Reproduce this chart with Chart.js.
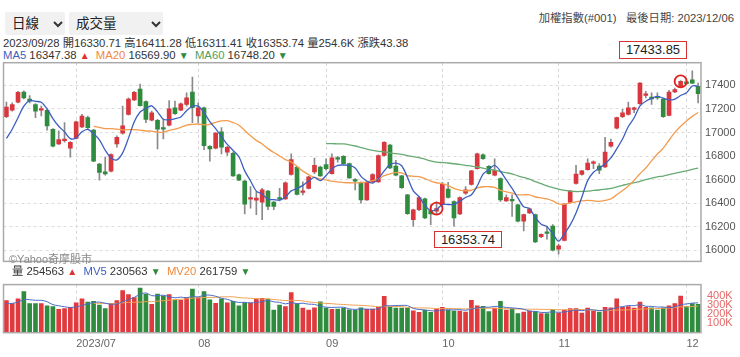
<!DOCTYPE html>
<html><head><meta charset="utf-8">
<script src="https://cdn.jsdelivr.net/npm/chart.js@4.4.0/dist/chart.umd.min.js"></script>
<style>
html,body{margin:0;padding:0;background:#fff;}
body{width:740px;height:357px;position:relative;overflow:hidden;font-family:"Liberation Sans",Arial,"Noto Sans CJK TC",sans-serif;color:#333;}
.abs{position:absolute;white-space:nowrap;}
.sel{position:absolute;top:12px;height:23px;background:#f1f1f1;border-radius:2px;font-size:13.5px;line-height:23px;color:#222;}
.sel span{position:absolute;left:7px;top:0;}
.sel svg{position:absolute;top:9px;}
.info{font-size:11.3px;line-height:13px;color:#333;}
.blue{color:#3d5fc0}.orange{color:#f08a3c}.green{color:#4e9e5c}.up{color:#e03030;font-size:10px}.dn{color:#2e8b3c;font-size:10px}
.box{position:absolute;border:1.5px solid #d93030;background:#fff;font-size:13px;line-height:16px;text-align:center;color:#222;box-sizing:border-box;}
canvas{position:absolute;left:0;}
</style></head><body>
<div class="sel" style="left:5px;width:60px;"><span>日線</span><svg style="left:48px" width="10" height="7"><polyline points="1,1 5,5 9,1" fill="none" stroke="#333" stroke-width="2"/></svg></div>
<div class="sel" style="left:69px;width:94px;"><span>成交量</span><svg style="left:82px" width="10" height="7"><polyline points="1,1 5,5 9,1" fill="none" stroke="#333" stroke-width="2"/></svg></div>
<div class="abs info" style="right:6px;top:12px;color:#444;">加權指數(#001) &nbsp; 最後日期: 2023/12/06</div>
<div class="abs info" style="left:3px;top:37px;">2023/09/28 開16330.71 高16411.28 低16311.41 收16353.74 量254.6K 漲跌43.38</div>
<div class="abs info" style="left:3px;top:49px;"><span class="blue">MA5</span> 16347.38 <span class="up">▲</span> &nbsp;<span class="orange">MA20</span> 16569.90 <span class="dn">▼</span> &nbsp;<span class="green">MA60</span> 16748.20 <span class="dn">▼</span></div>
<canvas id="main" width="740" height="222" style="top:50px"></canvas>
<canvas id="vol" width="740" height="85" style="top:272px"></canvas>
<div class="abs" style="left:9px;top:250px;font-size:11px;color:#8a8a8a;">©Yahoo奇摩股市</div>
<div class="abs info" style="left:12px;top:265px;">量 254563 <span class="up">▲</span> &nbsp;<span class="blue">MV5</span> 230563 <span class="dn">▼</span> &nbsp;<span class="orange">MV20</span> 261759 <span class="dn">▼</span></div>
<div class="box" id="boxHigh" style="left:619px;top:41px;width:68px;height:18px;"></div>
<div class="box" id="boxSel" style="left:434px;top:231px;width:68px;height:17px;"></div>
<script>
const dates = [
'06/13','06/14','06/15','06/16','06/19','06/20','06/21','06/26','06/27','06/28','06/29','06/30',
'07/03','07/04','07/05','07/06','07/07','07/10','07/11','07/12','07/13','07/14','07/17','07/18','07/19','07/20','07/21','07/24','07/25','07/26','07/27','07/28','07/31',
'08/01','08/02','08/04','08/07','08/08','08/09','08/10','08/11','08/14','08/15','08/16','08/17','08/18','08/21','08/22','08/23','08/24','08/25','08/28','08/29','08/30','08/31',
'09/01','09/04','09/05','09/06','09/07','09/08','09/11','09/12','09/13','09/14','09/15','09/18','09/19','09/20','09/21','09/22','09/25','09/26','09/27','09/28',
'10/02','10/03','10/04','10/05','10/06','10/11','10/12','10/13','10/16','10/17','10/18','10/19','10/20','10/23','10/24','10/25','10/26','10/27','10/30','10/31',
'11/01','11/02','11/03','11/06','11/07','11/08','11/09','11/10','11/13','11/14','11/15','11/16','11/17','11/20','11/21','11/22','11/23','11/24','11/27','11/28','11/29','11/30',
'12/01','12/04','12/05'];
const monthTickLabels = {'07':'2023/07','08':'08','09':'09','10':'10','11':'11','12':'12'};
const opens = [17135,17190,17258,17344,17285,17238,17190,17188,17026,16903,
16931,16866,16950,17048,17126,17020,16732,16665,16671,16903,
16995,17154,17277,17369,17263,17104,17104,17042,17062,17210,
17190,17238,17344,17140,17210,16883,16866,17006,16833,16824,
16640,16587,16434,16425,16408,16503,16408,16448,16436,16643,
16707,16492,16526,16665,16707,16727,16651,16785,16797,16735,
16595,16576,16428,16581,16581,16805,16894,16715,16632,16470,
16260,16344,16436,16336,16330.71,16386,16520,16414,16308,16484,
16559,16693,16811,16713,16637,16609,16419,16431,16386,16246,
16316,16302,16115,16154,16204,16009,16084,16405,16568,16643,
16685,16738,16715,16707,16883,17037,17135,17154,17196,17244,
17316,17300,17302,17285,17146,17344,17392,17430,17448,17392];
const highs = [17258,17252,17350,17355,17313,17246,17224,17196,17034,17014,
17084,16922,17098,17154,17140,17028,16738,16791,16819,16972,
17224,17294,17350,17411,17269,17182,17112,17112,17271,17266,
17252,17336,17470,17252,17216,16889,17000,17042,16883,16833,
16646,16593,16540,16498,16526,16509,16414,16526,16581,16819,
16713,16581,16629,16783,16715,16777,16819,16797,16805,16741,
16609,16581,16581,16651,16811,16922,16900,16763,16637,16475,
16350,16456,16442,16386,16411.28,16576,16576,16420,16453,16540,
16679,16825,16819,16719,16777,16615,16470,16470,16391,16308,
16358,16308,16140,16204,16218,16051,16397,16509,16721,16679,
16777,16760,16735,16959,16945,17132,17196,17258,17216,17425,
17350,17336,17336,17291,17358,17378,17442,17440,17523,17420];
const lows = [17126,17182,17252,17285,17252,17126,17140,17020,16877,16897,
16917,16791,16945,17042,17028,16752,16595,16637,16665,16875,
16986,17148,17271,17224,17084,17098,16861,16945,17056,17154,
17185,17224,17084,17084,16855,16757,16861,16819,16805,16626,
16590,16308,16358,16302,16260,16344,16344,16419,16431,16637,
16470,16470,16520,16651,16626,16679,16646,16749,16730,16609,
16512,16400,16422,16576,16576,16799,16693,16632,16526,16305,
16204,16336,16269,16218,16311.41,16380,16442,16204,16302,16475,
16553,16688,16772,16646,16632,16414,16414,16288,16241,16163,
16310,16065,16107,16093,15995,15967,16079,16400,16562,16637,
16679,16693,16651,16702,16875,17031,17126,17148,17168,17238,
17294,17238,17280,17129,17140,17339,17386,17405,17414,17252];
const closes = [17216,17238,17341,17294,17266,17182,17204,17056,16883,16939,
16945,16917,17090,17140,17042,16757,16660,16648,16813,16959,
17056,17285,17341,17229,17112,17168,17028,17028,17202,17160,
17244,17294,17210,17210,16889,16861,16995,16875,16875,16632,
16595,16392,16448,16442,16512,16372,16372,16434,16573,16769,
16475,16503,16623,16721,16632,16693,16785,16774,16735,16615,
16587,16428,16576,16643,16805,16917,16699,16637,16531,16310,
16344,16448,16274,16308,16353.74,16559,16448,16274,16448,16512,
16674,16819,16777,16651,16679,16428,16448,16419,16246,16302,
16352,16070,16134,16143,16000,16037,16392,16503,16646,16674,
16741,16749,16679,16833,16917,17126,17168,17210,17204,17420,
17328,17285,17294,17135,17344,17364,17433.85,17415,17420,17330];
const volumesK = [344,312,363,442,312,312,312,290,281,252,
258,274,322,363,328,337,296,258,312,344,
454,410,378,479,416,306,416,394,410,347,
347,378,470,378,442,353,315,363,322,337,
290,322,322,363,369,359,243,296,281,432,
312,265,243,268,331,265,250,255,265,245,
240,268,250,255,274,391,274,265,265,265,
235,220,240,220,254.563,274,243,233,233,221,
347,290,284,227,265,337,243,258,205,221,
233,227,205,205,249,211,243,258,258,211,
265,233,221,274,268,363,274,281,265,328,
274,268,243,268,290,312,394,281,312,306];
const priorCloses = [16848, 16851, 16804, 17031];
const priorVolumesK = [300, 290, 310, 320];
const priceTicks = [16000,16200,16400,16600,16800,17000,17200,17400];
const volumeTicksK = [100,200,300,400];
const markIdx = [74, 116];

const RED='#d9363e', GREEN='#2f8c3f';
const upColors = closes.map((c,i)=> c>=opens[i] ? RED : GREEN);
function movingAvg(prior, vals, n){
  const all = prior.concat(vals);
  return vals.map((_,i)=>{ const end=i+prior.length; if(end-n+1<0) return null;
    let s=0; for(let k=end-n+1;k<=end;k++) s+=all[k]; return s/n; });
}
const ma5 = movingAvg(priorCloses, closes, 5);
const ma20 = movingAvg(priorCloses, closes, 20);
const ma60 = movingAvg(priorCloses, closes, 60);
const mv5 = movingAvg(priorVolumesK, volumesK, 5);
const mv20 = movingAvg(priorVolumesK, volumesK, 20);
const monthStart = new Set();
dates.forEach((d,i)=>{ if(i>0 && d.slice(0,2)!==dates[i-1].slice(0,2)) monthStart.add(i); });

Chart.defaults.font.family = '"Liberation Sans", Arial, sans-serif';
Chart.defaults.font.size = 11;

const framePlugin = {id:'frame', afterDraw(chart){
  const a=chart.chartArea, c=chart.ctx; c.save(); c.strokeStyle='#aaaaaa'; c.lineWidth=1.5;
  c.strokeRect(a.left, a.top, a.right-a.left, a.bottom-a.top); c.restore(); }};
const markPlugin = {id:'marks', afterDatasetsDraw(chart){
  const c=chart.ctx, xs=chart.scales.x, ys=chart.scales.y; c.save(); c.strokeStyle='#e02020'; c.lineWidth=1.8;
  markIdx.forEach(i=>{ c.beginPath(); c.arc(xs.getPixelForValue(i), ys.getPixelForValue(closes[i]), 6, 0, Math.PI*2); c.stroke(); });
  c.restore(); }};
const gridColor = ctx => monthStart.has(ctx.index) ? '#d6d6d6' : 'rgba(0,0,0,0)';
const line = (data,color,w)=>({type:'line',data,borderColor:color,borderWidth:w,pointRadius:0,tension:0.3,fill:false});

new Chart(document.getElementById('main'), {
  type:'bar',
  data:{labels:dates, datasets:[
    line(ma5,'#3d5fc0',1.3), line(ma20,'#f39c4e',1.3), line(ma60,'#68ab72',1.3),
    {data:closes.map((c,i)=>[opens[i],c]), backgroundColor:upColors, barThickness:4, grouped:false, minBarLength:1.5},
    {data:lows.map((l,i)=>[l,highs[i]]), backgroundColor:'#8a8a8a', barThickness:1, grouped:false}
  ]},
  options:{responsive:false, animation:false, events:[],
    layout:{padding:{top:12.7,bottom:7.5,left:3.5,right:0}},
    plugins:{legend:{display:false},tooltip:{enabled:false}},
    scales:{
      x:{grid:{offset:false,color:gridColor,drawTicks:false}, border:{display:false,dash:[3,3]}, ticks:{display:false,autoSkip:false}, afterFit:s=>{s.height=0;}},
      y:{position:'right', min:15905, max:17593, afterBuildTicks:s=>{s.ticks=priceTicks.map(v=>({value:v}));},
         grid:{color:'#dcdcdc',drawTicks:false}, border:{display:false,dash:[3,3]},
         ticks:{color:'#555',padding:4,font:{size:11},autoSkip:false,callback:v=>String(v)}, afterFit:s=>{s.width=39;}}
    }},
  plugins:[framePlugin, markPlugin]
});

new Chart(document.getElementById('vol'), {
  type:'bar',
  data:{labels:dates, datasets:[
    line(mv5,'#4a6cc6',1), line(mv20,'#f0a050',1),
    {data:volumesK, backgroundColor:upColors.map(c=>c===RED?'#e0393e':GREEN), barThickness:4}
  ]},
  options:{responsive:false, animation:false, events:[],
    layout:{padding:{top:5.7,bottom:0,left:3.5,right:0}},
    plugins:{legend:{display:false},tooltip:{enabled:false}},
    scales:{
      x:{grid:{offset:false,color:gridColor,drawTicks:false}, border:{display:false,dash:[3,3]},
         ticks:{autoSkip:false,maxRotation:0,align:'start',padding:5,color:'#666',font:{size:11},
           callback:(v,i)=> monthStart.has(i) ? monthTickLabels[dates[i].slice(0,2)] : ''},
         afterFit:s=>{s.height=24.3;}},
      y:{position:'right', min:0, max:517, afterBuildTicks:s=>{s.ticks=volumeTicksK.map(v=>({value:v}));},
         grid:{display:false,drawTicks:false}, border:{display:false},
         ticks:{color:'#e46a6a',padding:6,font:{size:11},autoSkip:false,callback:v=>v+'K'}, afterFit:s=>{s.width=39;}}
    }},
  plugins:[framePlugin]
});
document.getElementById('boxHigh').textContent = closes[116].toFixed(2);
document.getElementById('boxSel').textContent = closes[74].toFixed(2);
</script>
</body></html>
